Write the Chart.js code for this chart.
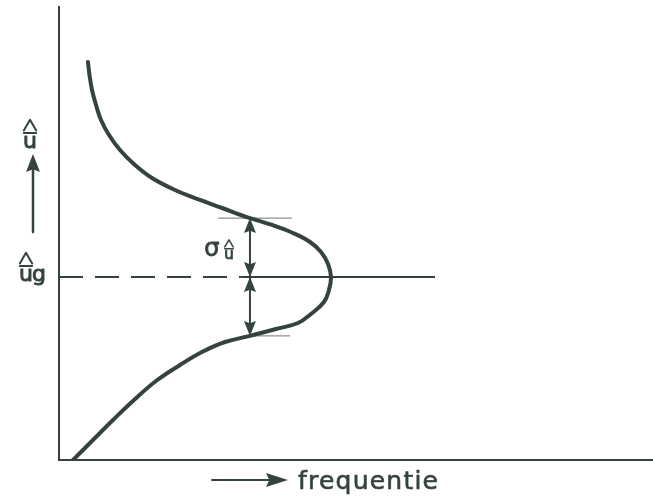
<!DOCTYPE html>
<html>
<head>
<meta charset="utf-8">
<script src="https://cdn.jsdelivr.net/npm/chart.js@4/dist/chart.umd.min.js"></script>
<style>
  html, body { margin: 0; padding: 0; background: #ffffff; }
  #wrap { width: 653px; height: 497px; position: relative; }
</style>
</head>
<body>
<div id="wrap"><canvas id="c"></canvas></div>
<script>
// Frequency (horizontal) and peak value û (vertical) along the distribution curve
const curveFreq = [4.88, 5.13, 5.56, 6.23, 7.07, 8.42, 10.27, 12.79, 15.66, 19.53, 23.74, 27.44, 32.15, 35.86, 39.39, 42.26, 44.11, 45.29, 45.79, 45.45, 44.61, 42.42, 40.24, 36.53, 32.15, 27.95, 24.07, 20.37, 16.33, 12.63, 9.09, 5.72, 2.36];
const curveU    = [87.86, 84.99, 81.68, 78.37, 75.06, 71.74, 68.43, 65.12, 62.25, 59.60, 57.40, 55.63, 53.40, 51.88, 50.11, 48.12, 45.92, 43.27, 40.40, 37.53, 34.88, 32.23, 30.24, 28.92, 27.40, 26.05, 23.84, 20.97, 17.44, 13.25, 8.83, 4.42, 0.00];

// Mean value û_g and standard deviation σ_û
const uMean = 40.4;
const uSigma = 13.0;

// Extent of the û_g reference line (dashed part, then solid part)
const meanDashFreq = [0, 30.5];
const meanSolidFreq = [30.5, 63.3];

// Frequency at which σ is marked, and the short marker lines at û_g ± σ
const sigmaFreq = 32.15;
const sigmaUpperTick = [26.8, 39.2];
const sigmaLowerTick = [31.0, 38.9];

const INK = '#34433d';
const FONT = '"DejaVu Sans", "Liberation Sans", sans-serif';

const pts = (xs, ys) => xs.map((x, i) => ({ x, y: ys[i] }));
const hline = (xs, y) => xs.map(x => ({ x, y }));

// filled, slightly barbed arrowhead; (dx,dy) is the unit direction of the tip
function arrowHead(ctx, tx, ty, dx, dy, len, half) {
  const bx = tx - dx * len, by = ty - dy * len;
  const nx = -dy, ny = dx;
  const mx = tx - dx * len * 0.85, my = ty - dy * len * 0.85;
  ctx.beginPath();
  ctx.moveTo(tx, ty);
  ctx.lineTo(bx + nx * half, by + ny * half);
  ctx.lineTo(mx, my);
  ctx.lineTo(bx - nx * half, by - ny * half);
  ctx.closePath();
  ctx.fill();
}

// text drawn with a slightly heavier stroke, like pen lettering
function inkText(ctx, s, x, y, weight) {
  ctx.fillText(s, x, y);
  ctx.lineWidth = weight;
  ctx.strokeText(s, x, y);
}

// u with an overbar and a hat above it
function uHat(ctx, cx, baseline, size, lw) {
  ctx.font = size + 'px ' + FONT;
  ctx.textAlign = 'center';
  ctx.textBaseline = 'alphabetic';
  inkText(ctx, 'u', cx, baseline, lw * 0.5);
  const w = size * 0.28;
  const xh = size * 0.55;
  const barY = baseline - xh - size * 0.13;
  ctx.lineWidth = lw;
  ctx.beginPath();
  ctx.moveTo(cx - w, barY);
  ctx.lineTo(cx + w, barY);
  ctx.stroke();
  const capBot = barY - size * 0.12;
  const capTop = capBot - size * 0.48;
  ctx.beginPath();
  ctx.moveTo(cx - w, capBot);
  ctx.lineTo(cx, capTop);
  ctx.lineTo(cx + w, capBot);
  ctx.stroke();
}

const annotations = {
  id: 'annotations',
  afterDatasetsDraw(chart) {
    const { ctx, scales: { x, y } } = chart;
    ctx.save();
    ctx.fillStyle = INK;
    ctx.strokeStyle = INK;
    ctx.lineCap = 'round';
    ctx.lineJoin = 'round';

    // σ arrows between û_g - σ, û_g and û_g + σ
    const sx = x.getPixelForValue(sigmaFreq);
    const yTop = y.getPixelForValue(uMean + uSigma);
    const yMid = y.getPixelForValue(uMean);
    const yBot = y.getPixelForValue(uMean - uSigma);
    ctx.lineWidth = 2;
    ctx.beginPath();
    ctx.moveTo(sx, yTop + 6);
    ctx.lineTo(sx, yBot - 6);
    ctx.stroke();
    arrowHead(ctx, sx, yTop, 0, -1, 15, 6);
    arrowHead(ctx, sx, yMid, 0, 1, 15, 6);
    arrowHead(ctx, sx, yMid, 0, -1, 15, 6);
    arrowHead(ctx, sx, yBot, 0, 1, 15, 6);

    // σ label
    ctx.font = '24px ' + FONT;
    ctx.textAlign = 'center';
    ctx.textBaseline = 'alphabetic';
    inkText(ctx, 'σ', sx - 38, yMid - 21, 0.8);
    uHat(ctx, sx - 21, yMid - 18, 15, 1.5);

    // vertical axis name with arrow
    const ax = 33;
    uHat(ctx, 30, 148, 22, 2);
    ctx.lineWidth = 2.5;
    ctx.beginPath();
    ctx.moveTo(ax, 232);
    ctx.lineTo(ax, 166);
    ctx.stroke();
    arrowHead(ctx, ax, 154, 0, -1, 18, 7);

    // û_g at the level of the mean
    uHat(ctx, 26, yMid + 4, 22, 2);
    ctx.font = '22px ' + FONT;
    ctx.textAlign = 'left';
    inkText(ctx, 'g', 32, yMid + 4, 1);

    // horizontal axis name with arrow
    ctx.lineWidth = 2;
    ctx.beginPath();
    ctx.moveTo(212, 480);
    ctx.lineTo(272, 480);
    ctx.stroke();
    arrowHead(ctx, 288, 480, 1, 0, 22, 7);
    ctx.font = '25px ' + FONT;
    ctx.textAlign = 'left';
    const label = 'frequentie';
    const natural = ctx.measureText(label).width;
    const spacing = (140 - natural) / (label.length - 1);
    ctx.letterSpacing = Math.max(0, spacing) + 'px';
    inkText(ctx, label, 298, 489, 0.6);
    ctx.restore();
  }
};

new Chart(document.getElementById('c'), {
  type: 'scatter',
  data: {
    datasets: [
      {
        data: pts(curveFreq, curveU),
        showLine: true,
        borderColor: INK,
        borderWidth: 4,
        pointRadius: 0,
        tension: 0.4,
        borderCapStyle: 'round',
        borderJoinStyle: 'round'
      },
      {
        data: hline(meanDashFreq, uMean),
        showLine: true,
        borderColor: INK,
        borderWidth: 2,
        borderDash: [24, 12],
        pointRadius: 0
      },
      {
        data: hline(meanSolidFreq, uMean),
        showLine: true,
        borderColor: INK,
        borderWidth: 2,
        pointRadius: 0
      },
      {
        data: hline(sigmaUpperTick, uMean + uSigma),
        showLine: true,
        borderColor: '#6f7a75',
        borderWidth: 1,
        pointRadius: 0
      },
      {
        data: hline(sigmaLowerTick, uMean - uSigma),
        showLine: true,
        borderColor: '#6f7a75',
        borderWidth: 1,
        pointRadius: 0
      }
    ]
  },
  options: {
    responsive: true,
    maintainAspectRatio: false,
    animation: false,
    layout: { padding: { left: 59, right: 0, top: 7, bottom: 37 } },
    plugins: { legend: { display: false }, tooltip: { enabled: false } },
    scales: {
      x: {
        type: 'linear', min: 0, max: 100,
        grid: { display: false, drawTicks: false },
        ticks: { display: false },
        border: { display: true, color: INK, width: 2 },
        afterFit: s => { s.height = 0; }
      },
      y: {
        type: 'linear', min: 0, max: 100,
        grid: { display: false, drawTicks: false },
        ticks: { display: false },
        border: { display: true, color: INK, width: 2 },
        afterFit: s => { s.width = 0; }
      }
    }
  },
  plugins: [annotations]
});
</script>
</body>
</html>
